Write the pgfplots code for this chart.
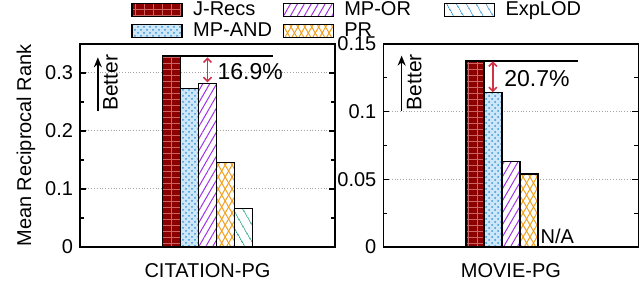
\documentclass[border=0pt]{standalone}
\usepackage{fontspec}
\setmainfont{Liberation Sans}
\usepackage{pgfplots}
\pgfplotsset{compat=1.18}
\usetikzlibrary{patterns,patterns.meta,arrows.meta}

\definecolor{jred}{RGB}{140,0,0}
\definecolor{jgrid}{RGB}{205,100,100}
\definecolor{andfill}{RGB}{205,230,248}
\definecolor{anddot}{RGB}{60,150,215}
\definecolor{orcol}{RGB}{160,50,230}
\definecolor{prcol}{RGB}{240,160,30}
\definecolor{expcol}{RGB}{30,160,130}
\definecolor{explegend}{RGB}{50,150,210}
\definecolor{annred}{RGB}{210,50,70}

\tikzset{
  jrecs/.style={draw=black, fill=jred,
    postaction={pattern={Lines[angle=0,distance=3pt,line width=0.4pt]}, pattern color=jgrid},
    postaction={pattern={Lines[angle=90,distance=4.5pt,line width=0.4pt]}, pattern color=jgrid}},
  mpand/.style={draw=black, fill=andfill,
    postaction={pattern=crosshatch dots, pattern color=anddot}},
  mpor/.style={draw=black, fill=white,
    postaction={pattern={Lines[angle=60,distance=3pt,line width=0.5pt]}, pattern color=orcol}},
  prst/.style={draw=black, fill=white,
    postaction={pattern={Lines[angle=60,distance=3pt,line width=0.5pt]}, pattern color=prcol},
    postaction={pattern={Lines[angle=-60,distance=3pt,line width=0.5pt]}, pattern color=prcol}},
  explod/.style={draw=black, fill=white,
    postaction={pattern={Lines[angle=-60,distance=4pt,line width=0.5pt]}, pattern color=expcol}},
  explodleg/.style={draw=black, fill=white,
    postaction={pattern={Lines[angle=-60,distance=4pt,line width=0.5pt]}, pattern color=explegend}},
}

\pgfplotsset{
  common/.style={
    width=127.5pt, height=101.5pt, scale only axis,
    xmin=-1, xmax=1, ymin=0,
    xtick={0},
    x tick style={draw=none},
    ytick pos=both,
    tick align=inside,
    minor y tick num=1,
    ymajorgrids,
    grid style={densely dotted, gray!70, line width=0.5pt},
    major tick length=3pt, minor tick length=2pt,
    axis line style={line width=0.8pt},
    every tick/.style={black, line width=0.6pt},
    scaled y ticks=false,
    /pgf/number format/assume math mode=true,
    yticklabel style={/pgf/number format/fixed, /pgf/number format/precision=2},
    xticklabel style={yshift=-1.5pt},
    ybar, bar width=9pt,
  },
}

\begin{document}
\begin{tikzpicture}[font=\fontsize{10}{12}\selectfont]
\useasboundingbox (-40pt,-28pt) rectangle (280pt,123.5pt);

\begin{axis}[common,
  at={(0pt,0pt)},
  ymax=0.35,
  ytick={0,0.1,0.2,0.3},
  xticklabels={CITATION-PG},
  ylabel={Mean Reciprocal Rank},
  ylabel style={at={(axis description cs:-0.212,0.5)}, anchor=center},
  legend image code/.code={\draw[#1] (0pt,-3.25pt) rectangle (25pt,3.25pt);},
  legend columns=3,
  legend cell align=left,
  legend style={at={(axis description cs:0.2,1.22)}, anchor=north west,
    draw=none, fill=none, row sep=0pt, inner sep=0pt,
    /tikz/every odd column/.append style={column sep=5pt},
    nodes={inner sep=0.25pt, text height=7.5pt, text depth=2.5pt}},
]
\addplot[jrecs, line width=0.6pt, bar shift=-18pt, forget plot] coordinates {(0,0.329)};
\addplot[mpand, line width=0.6pt, bar shift=-9pt, forget plot] coordinates {(0,0.273)};
\addplot[mpor, line width=0.6pt, bar shift=0pt, forget plot] coordinates {(0,0.282)};
\addplot[prst, line width=0.6pt, bar shift=9pt, forget plot] coordinates {(0,0.145)};
\addplot[explod, line width=0.6pt, bar shift=18pt, forget plot] coordinates {(0,0.066)};

\addlegendimage{jrecs, line width=0.6pt}
\addlegendentry{\makebox[44.5pt][l]{J-Recs}}
\addlegendimage{mpor, line width=0.6pt}
\addlegendentry{\makebox[49.5pt][l]{MP-OR}}
\addlegendimage{explodleg, line width=0.6pt}
\addlegendentry{\makebox[40pt][l]{ExpLOD}}
\addlegendimage{mpand, line width=0.6pt}
\addlegendentry{\makebox[44.5pt][l]{MP-AND}}
\addlegendimage{prst, line width=0.6pt}
\addlegendentry{\makebox[49.5pt][l]{PR}}

\draw[line width=0.8pt] (axis cs:-0.353,0.329) -- (axis cs:0.514,0.329);
\draw[annred, line width=0.8pt, {Straight Barb[length=2pt]}-{Straight Barb[length=2pt]}]
  (axis cs:0,0.327) -- (axis cs:0,0.284);
\node[anchor=west, inner sep=1pt, font=\fontsize{11.5}{13}\selectfont] at (axis cs:0.06,0.302) {16.9\%};
\draw[line width=0.8pt, -{Stealth[length=5pt,width=4pt]}] (axis cs:-0.86,0.234) -- (axis cs:-0.86,0.327);
\node[rotate=90, anchor=north west, inner sep=0pt, font=\fontsize{10.5}{12}\selectfont] at ([xshift=2.5pt]axis cs:-0.86,0.234) {Better};
\end{axis}

\begin{axis}[common,
  at={(151.7pt,0pt)},
  ymax=0.15,
  ytick={0,0.05,0.1,0.15},
  xticklabels={MOVIE-PG},
]
\addplot[jrecs, line width=0.6pt, bar shift=-18pt] coordinates {(0,0.1375)};
\addplot[mpand, line width=0.6pt, bar shift=-9pt] coordinates {(0,0.114)};
\addplot[mpor, line width=0.6pt, bar shift=0pt] coordinates {(0,0.063)};
\addplot[prst, line width=0.6pt, bar shift=9pt] coordinates {(0,0.054)};

\draw[line width=0.8pt] (axis cs:-0.353,0.1375) -- (axis cs:0.53,0.1375);
\draw[annred, line width=0.8pt, {Straight Barb[length=2pt]}-{Straight Barb[length=2pt]}]
  (axis cs:-0.1415,0.1372) -- (axis cs:-0.1415,0.1143);
\node[anchor=west, inner sep=1pt, font=\fontsize{11.5}{13}\selectfont] at (axis cs:-0.07,0.1245) {20.7\%};
\node[anchor=base west, inner sep=1pt, yshift=1.7pt] at (axis cs:0.215,0) {N/A};
\draw[line width=0.8pt, -{Stealth[length=5pt,width=4pt]}] (axis cs:-0.857,0.1008) -- (axis cs:-0.857,0.1414);
\node[rotate=90, anchor=north west, inner sep=0pt, font=\fontsize{10.5}{12}\selectfont] at ([xshift=2.5pt]axis cs:-0.857,0.1008) {Better};
\end{axis}
\end{tikzpicture}
\end{document}
